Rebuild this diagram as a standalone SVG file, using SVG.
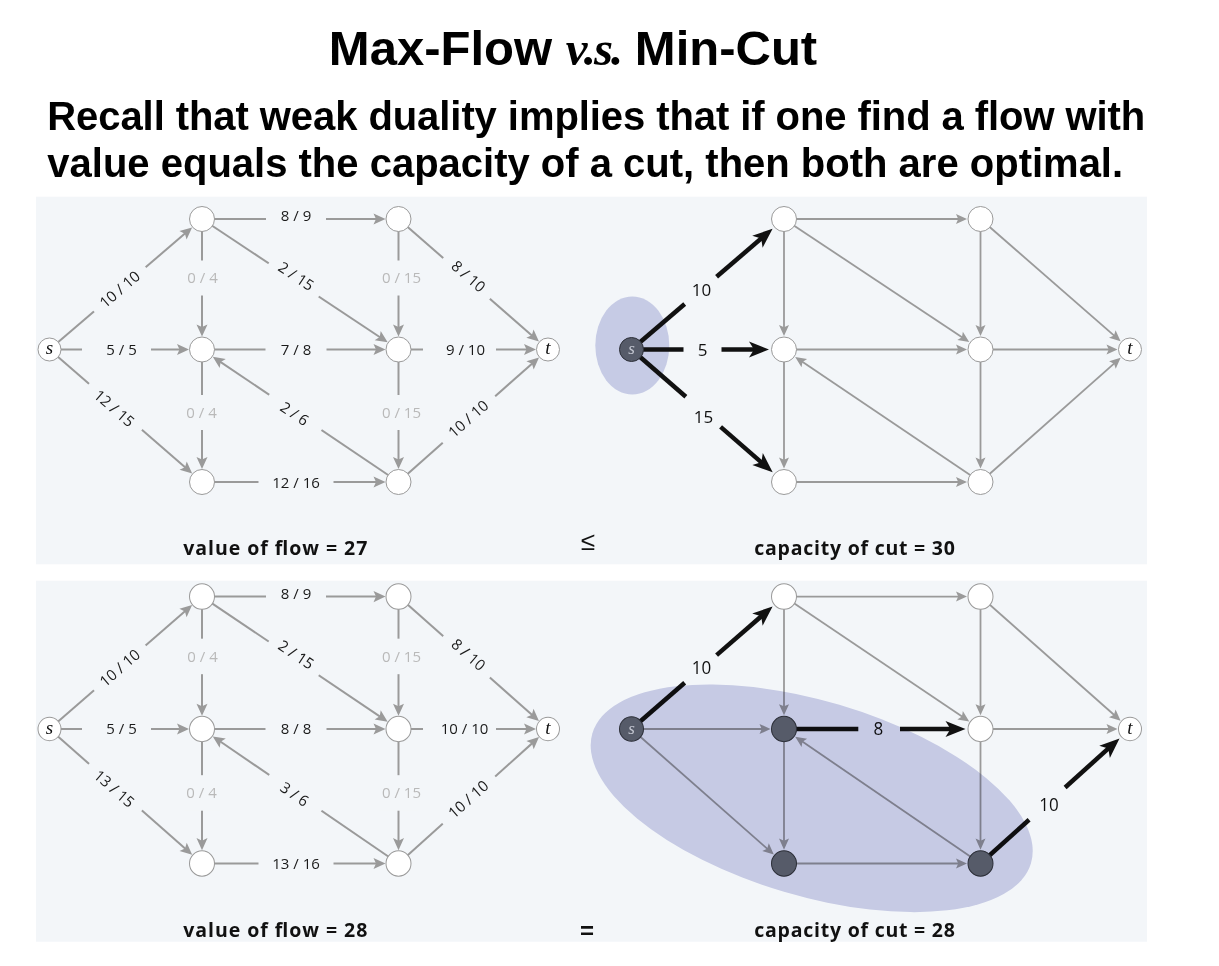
<svg xmlns="http://www.w3.org/2000/svg" width="1219" height="966" viewBox="0 0 1219 966">
<defs>
<style>
.panel{fill:#f3f6f9}
.e{stroke:#9a9a9a;stroke-width:2;fill:none;marker-end:url(#ah)}
.f{stroke:#9a9a9a;stroke-width:1.8;fill:none;marker-end:url(#as)}
.k{stroke:#111;stroke-width:4.5;fill:none}
.ka{marker-end:url(#ab)}
.n{fill:#fff;stroke:#9a9a9a;stroke-width:1}
.dn{fill:#565b69;stroke:#2c2f38;stroke-width:1}
.gap{fill:#f3f6f9}
.lb{font-family:"Open Sans","DejaVu Sans",sans-serif;font-size:15px;fill:#1a1a1a;text-anchor:middle}
.lt{fill:#b9b9b9}
.cl{font-family:"Open Sans","DejaVu Sans",sans-serif;font-size:17px;fill:#111;text-anchor:middle}
.st{font-family:"Liberation Serif",serif;font-style:italic;font-size:19px;fill:#111;text-anchor:middle}
.sd{fill:#c3c6d0;font-size:17px}
.cap{font-family:"Open Sans","DejaVu Sans",sans-serif;font-weight:bold;font-size:19.5px;fill:#111}
.rel{font-family:"Liberation Sans",sans-serif;fill:#111;text-anchor:middle}
</style>
<marker id="ah" markerUnits="userSpaceOnUse" viewBox="-7 -6 14 12" markerWidth="14" markerHeight="12" refX="0" refY="0" orient="auto"><path d="M6,0L-6,-5.5L-3.5,0L-6,5.5Z" fill="#9a9a9a"/></marker>
<marker id="as" markerUnits="userSpaceOnUse" viewBox="-7 -6 14 12" markerWidth="14" markerHeight="12" refX="0" refY="0" orient="auto"><path d="M5.5,0L-5.5,-5L-3.3,0L-5.5,5Z" fill="#9a9a9a"/></marker>
<marker id="ab" markerUnits="userSpaceOnUse" viewBox="-11 -9 22 18" markerWidth="22" markerHeight="18" refX="0" refY="0" orient="auto"><path d="M10,0L-10,-8L-5,0L-10,8Z" fill="#111"/></marker>
</defs>

<rect width="1219" height="966" fill="#fff"/>

<g id="title">
<text x="573" y="65" text-anchor="middle" style="font-family:'Liberation Sans',Arial,sans-serif;font-weight:bold;font-size:49px;fill:#000">Max-Flow <tspan style="font-family:'Liberation Serif',serif;font-style:italic;font-weight:bold;letter-spacing:-2px">v.s.</tspan> Min-Cut</text>
<text x="47.3" y="130" textLength="1098" style="font-family:'Liberation Sans',Arial,sans-serif;font-weight:bold;font-size:40px;fill:#000">Recall that weak duality implies that if one find a flow with</text>
<text x="47.3" y="177" style="font-family:'Liberation Sans',Arial,sans-serif;font-weight:bold;font-size:40px;fill:#000">value equals the capacity of a cut, then both are optimal.</text>
</g>

<rect class="panel" x="36" y="196.7" width="1111" height="367.6"/>
<rect class="panel" x="36" y="580.7" width="1111" height="361"/>

<!-- ================= TOP LEFT ================= -->
<g id="tl-connectors">
<path class="e" d="M49.5,349.5L187.56,231.35"/>
<path class="e" d="M49.5,349.5L183,349.5"/>
<path class="e" d="M49.5,349.5L187.66,469.54"/>
<path class="e" d="M202,219L379.5,219"/>
<path class="e" d="M202,219L202,330.5"/>
<path class="e" d="M202,219L382.67,338.99"/>
<path class="e" d="M398.5,219L398.5,330.5"/>
<path class="e" d="M398.5,219L534.44,337.66"/>
<path class="e" d="M202,349.5L379.5,349.5"/>
<path class="e" d="M202,349.5L202,463"/>
<path class="e" d="M398.5,482L217.75,360.12"/>
<path class="e" d="M398.5,349.5L398.5,463"/>
<path class="e" d="M398.5,349.5L530,349.5"/>
<path class="e" d="M202,482L379.5,482"/>
<path class="e" d="M398.5,482L534.53,361.44"/>
<g transform="translate(120,289.5) rotate(-40.6)"><rect class="gap" x="-34" y="-10" width="68" height="20"/><text class="lb" y="5">10 / 10</text></g>
<g transform="translate(116.5,349.5)"><rect class="gap" x="-34.5" y="-9" width="69" height="18"/><text class="lb" x="5" y="5">5 / 5</text></g>
<g transform="translate(114,408.5) rotate(41)"><rect class="gap" x="-35" y="-11" width="70" height="20"/><text class="lb" y="5">12 / 15</text></g>
<g transform="translate(296,219)"><rect class="gap" x="-30" y="-9" width="60" height="18"/><text class="lb" y="2.3">8 / 9</text></g>
<g transform="translate(202,278)"><rect class="gap" x="-18" y="-17.5" width="36" height="35"/><text class="lb lt" x="0.5" y="5">0 / 4</text></g>
<g transform="translate(296,276.5) rotate(33.6)"><rect class="gap" x="-30" y="-9" width="60" height="20"/><text class="lb" y="5">2 / 15</text></g>
<g transform="translate(398.5,278)"><rect class="gap" x="-20" y="-17.5" width="40" height="35"/><text class="lb lt" x="3" y="5">0 / 15</text></g>
<g transform="translate(468.2,276.5) rotate(41.1)"><rect class="gap" x="-31" y="-9" width="62" height="20"/><text class="lb" y="5">8 / 10</text></g>
<g transform="translate(296,349.5)"><rect class="gap" x="-30.5" y="-9" width="61" height="18"/><text class="lb" y="5.3">7 / 8</text></g>
<g transform="translate(202,412.5)"><rect class="gap" x="-18" y="-17.5" width="36" height="35"/><text class="lb lt" x="-0.5" y="5">0 / 4</text></g>
<g transform="translate(294.3,414) rotate(34)"><rect class="gap" x="-31.5" y="-11" width="63" height="20"/><text class="lb" y="5">2 / 6</text></g>
<g transform="translate(398.5,412.5)"><rect class="gap" x="-20" y="-17.5" width="40" height="35"/><text class="lb lt" x="3" y="5">0 / 15</text></g>
<g transform="translate(459.5,349.5)"><rect class="gap" x="-36.5" y="-9" width="73" height="18"/><text class="lb" x="6" y="5">9 / 10</text></g>
<g transform="translate(296,482)"><rect class="gap" x="-37.5" y="-9" width="75" height="18"/><text class="lb" y="5.5">12 / 16</text></g>
<g transform="translate(468.5,419) rotate(-41.5)"><rect class="gap" x="-35" y="-10" width="70" height="20"/><text class="lb" y="5">10 / 10</text></g>
</g>
<g id="tl-s"><circle class="n" cx="49.5" cy="349.5" r="11.5"/><text class="st" x="49.5" y="354">s</text></g>
<g id="tl-a"><circle class="n" cx="202" cy="219" r="12.5"/></g>
<g id="tl-b"><circle class="n" cx="398.5" cy="219" r="12.5"/></g>
<g id="tl-c"><circle class="n" cx="202" cy="349.5" r="12.5"/></g>
<g id="tl-d"><circle class="n" cx="398.5" cy="349.5" r="12.5"/></g>
<g id="tl-e"><circle class="n" cx="202" cy="482" r="12.5"/></g>
<g id="tl-f"><circle class="n" cx="398.5" cy="482" r="12.5"/></g>
<g id="tl-t"><circle class="n" cx="548" cy="349.5" r="11.5"/><text class="st" x="548" y="354">t</text></g>

<!-- ================= TOP RIGHT ================= -->
<ellipse id="tr-cut" cx="632.3" cy="345.5" rx="37" ry="49" fill="#c6cbe5"/>
<g id="tr-connectors" transform="translate(582,0)">
<path class="f" d="M202,219L379.5,219"/>
<path class="f" d="M202,219L202,330.5"/>
<path class="f" d="M202,219L382.67,338.99"/>
<path class="f" d="M398.5,219L398.5,330.5"/>
<path class="f" d="M398.5,219L534.44,337.66"/>
<path class="f" d="M202,349.5L379.5,349.5"/>
<path class="f" d="M202,349.5L202,463"/>
<path class="f" d="M398.5,482L217.75,360.12"/>
<path class="f" d="M398.5,349.5L398.5,463"/>
<path class="f" d="M398.5,349.5L530,349.5"/>
<path class="f" d="M202,482L379.5,482"/>
<path class="f" d="M398.5,482L534.53,361.44"/>
<path class="k" d="M49.5,349.5L102.7,304"/>
<path class="k ka" d="M134.6,276.7L183,235.26"/>
<path class="k" d="M49.5,349.5L101.5,349.5"/>
<path class="k ka" d="M139.5,349.5L177,349.5"/>
<path class="k" d="M49.5,349.5L103.85,396.7"/>
<path class="k ka" d="M138.6,426.9L183.13,465.6"/>
<text class="cl" x="119.4" y="295.5">10</text>
<text class="cl" x="120.5" y="356">5</text>
<text class="cl" x="121.6" y="422.7">15</text>
</g>
<g transform="translate(582,0)">
<g id="tr-s"><circle class="dn" cx="49.5" cy="349.5" r="12"/><text class="st sd" x="49.5" y="354">s</text></g>
<g id="tr-a"><circle class="n" cx="202" cy="219" r="12.5"/></g>
<g id="tr-b"><circle class="n" cx="398.5" cy="219" r="12.5"/></g>
<g id="tr-c"><circle class="n" cx="202" cy="349.5" r="12.5"/></g>
<g id="tr-d"><circle class="n" cx="398.5" cy="349.5" r="12.5"/></g>
<g id="tr-e"><circle class="n" cx="202" cy="482" r="12.5"/></g>
<g id="tr-f"><circle class="n" cx="398.5" cy="482" r="12.5"/></g>
<g id="tr-t"><circle class="n" cx="548" cy="349.5" r="11.5"/><text class="st" x="548" y="354">t</text></g>
</g>

<!-- ================= BOTTOM LEFT ================= -->
<g transform="matrix(1,0,0,1.015,0,374.26)">
<g id="bl-connectors">
<path class="e" d="M49.5,349.5L187.56,231.35"/>
<path class="e" d="M49.5,349.5L183,349.5"/>
<path class="e" d="M49.5,349.5L187.66,469.54"/>
<path class="e" d="M202,219L379.5,219"/>
<path class="e" d="M202,219L202,330.5"/>
<path class="e" d="M202,219L382.67,338.99"/>
<path class="e" d="M398.5,219L398.5,330.5"/>
<path class="e" d="M398.5,219L534.44,337.66"/>
<path class="e" d="M202,349.5L379.5,349.5"/>
<path class="e" d="M202,349.5L202,463"/>
<path class="e" d="M398.5,482L217.75,360.12"/>
<path class="e" d="M398.5,349.5L398.5,463"/>
<path class="e" d="M398.5,349.5L530,349.5"/>
<path class="e" d="M202,482L379.5,482"/>
<path class="e" d="M398.5,482L534.53,361.44"/>
<g transform="translate(120,289.5) rotate(-40.6)"><rect class="gap" x="-34" y="-10" width="68" height="20"/><text class="lb" y="5">10 / 10</text></g>
<g transform="translate(116.5,349.5)"><rect class="gap" x="-34.5" y="-9" width="69" height="18"/><text class="lb" x="5" y="5">5 / 5</text></g>
<g transform="translate(114,408.5) rotate(41)"><rect class="gap" x="-35" y="-11" width="70" height="20"/><text class="lb" y="5">13 / 15</text></g>
<g transform="translate(296,219)"><rect class="gap" x="-30" y="-9" width="60" height="18"/><text class="lb" y="2.3">8 / 9</text></g>
<g transform="translate(202,278)"><rect class="gap" x="-18" y="-17.5" width="36" height="35"/><text class="lb lt" x="0.5" y="5">0 / 4</text></g>
<g transform="translate(296,276.5) rotate(33.6)"><rect class="gap" x="-30" y="-9" width="60" height="20"/><text class="lb" y="5">2 / 15</text></g>
<g transform="translate(398.5,278)"><rect class="gap" x="-20" y="-17.5" width="40" height="35"/><text class="lb lt" x="3" y="5">0 / 15</text></g>
<g transform="translate(468.2,276.5) rotate(41.1)"><rect class="gap" x="-31" y="-9" width="62" height="20"/><text class="lb" y="5">8 / 10</text></g>
<g transform="translate(296,349.5)"><rect class="gap" x="-30.5" y="-9" width="61" height="18"/><text class="lb" y="5.3">8 / 8</text></g>
<g transform="translate(202,412.5)"><rect class="gap" x="-18" y="-17.5" width="36" height="35"/><text class="lb lt" x="-0.5" y="5">0 / 4</text></g>
<g transform="translate(294.3,414) rotate(34)"><rect class="gap" x="-31.5" y="-11" width="63" height="20"/><text class="lb" y="5">3 / 6</text></g>
<g transform="translate(398.5,412.5)"><rect class="gap" x="-20" y="-17.5" width="40" height="35"/><text class="lb lt" x="3" y="5">0 / 15</text></g>
<g transform="translate(459.5,349.5)"><rect class="gap" x="-36.5" y="-9" width="73" height="18"/><text class="lb" x="5" y="5">10 / 10</text></g>
<g transform="translate(296,482)"><rect class="gap" x="-37.5" y="-9" width="75" height="18"/><text class="lb" y="5.5">13 / 16</text></g>
<g transform="translate(468.5,419) rotate(-41.5)"><rect class="gap" x="-35" y="-10" width="70" height="20"/><text class="lb" y="5">10 / 10</text></g>
</g>
<g id="bl-s"><circle class="n" cx="49.5" cy="349.5" r="11.5"/><text class="st" x="49.5" y="354">s</text></g>
<g id="bl-a"><circle class="n" cx="202" cy="219" r="12.5"/></g>
<g id="bl-b"><circle class="n" cx="398.5" cy="219" r="12.5"/></g>
<g id="bl-c"><circle class="n" cx="202" cy="349.5" r="12.5"/></g>
<g id="bl-d"><circle class="n" cx="398.5" cy="349.5" r="12.5"/></g>
<g id="bl-e"><circle class="n" cx="202" cy="482" r="12.5"/></g>
<g id="bl-f"><circle class="n" cx="398.5" cy="482" r="12.5"/></g>
<g id="bl-t"><circle class="n" cx="548" cy="349.5" r="11.5"/><text class="st" x="548" y="354">t</text></g>
</g>

<!-- ================= BOTTOM RIGHT ================= -->
<g id="br-connectors" transform="matrix(1,0,0,1.015,582,374.26)">
<path class="f" d="M49.5,349.5L183,349.5"/>
<path class="f" d="M49.5,349.5L187.66,469.54"/>
<path class="f" d="M202,219L379.5,219"/>
<path class="f" d="M202,219L202,330.5"/>
<path class="f" d="M202,219L382.67,338.99"/>
<path class="f" d="M398.5,219L398.5,330.5"/>
<path class="f" d="M398.5,219L534.44,337.66"/>
<path class="f" d="M202,349.5L202,463"/>
<path class="f" d="M398.5,482L217.75,360.12"/>
<path class="f" d="M398.5,349.5L398.5,463"/>
<path class="f" d="M398.5,349.5L530,349.5"/>
<path class="f" d="M202,482L379.5,482"/>
<path class="k" d="M49.5,349.5L102.7,304"/>
<path class="k ka" d="M134.6,276.7L183,235.26"/>
<path class="k" d="M202,349.5L276.3,349.5"/>
<path class="k ka" d="M318,349.5L373.5,349.5"/>
<path class="k" d="M398.5,482L447.1,438.9"/>
<path class="k ka" d="M483.1,407.1L530.04,365.42"/>
<text class="cl" x="119.4" y="295.5">10</text>
<text class="cl" x="296.3" y="355.5">8</text>
<text class="cl" x="466.9" y="430.4">10</text>
</g>
<ellipse id="br-cut" cx="0" cy="0" rx="228.7" ry="97.5" transform="translate(811.7,798.3) rotate(16.5)" fill="#d0d2ea" style="mix-blend-mode:multiply"/>
<g transform="matrix(1,0,0,1.015,582,374.26)">
<g id="br-s"><circle class="dn" cx="49.5" cy="349.5" r="12"/><text class="st sd" x="49.5" y="354">s</text></g>
<g id="br-a"><circle class="n" cx="202" cy="219" r="12.5"/></g>
<g id="br-b"><circle class="n" cx="398.5" cy="219" r="12.5"/></g>
<g id="br-c"><circle class="dn" cx="202" cy="349.5" r="12.5"/></g>
<g id="br-d"><circle class="n" cx="398.5" cy="349.5" r="12.5"/></g>
<g id="br-e"><circle class="dn" cx="202" cy="482" r="12.5"/></g>
<g id="br-f"><circle class="dn" cx="398.5" cy="482" r="12.5"/></g>
<g id="br-t"><circle class="n" cx="548" cy="349.5" r="11.5"/><text class="st" x="548" y="354">t</text></g>
</g>

<g id="captions">
<text class="cap" x="183.3" y="555" textLength="184">value of flow = 27</text>
<text class="rel" x="588" y="550" font-size="26">≤</text>
<text class="cap" x="754.3" y="555" textLength="200.6">capacity of cut = 30</text>
<text class="cap" x="183.3" y="937" textLength="184">value of flow = 28</text>
<text class="rel" x="587" y="939" font-size="24" font-weight="bold">=</text>
<text class="cap" x="754.3" y="937" textLength="200.6">capacity of cut = 28</text>
</g>
</svg>
